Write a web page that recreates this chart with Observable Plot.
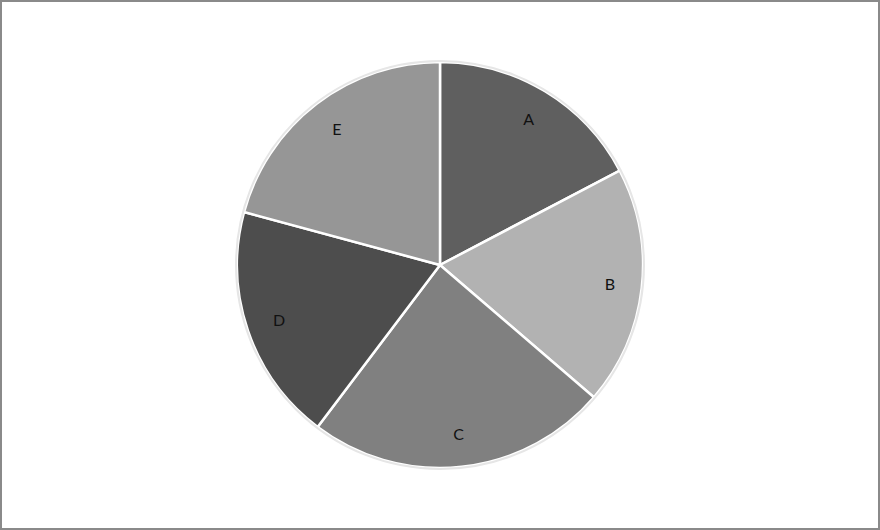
<!DOCTYPE html>
<html>
<head>
<meta charset="utf-8">
<script src="https://cdn.jsdelivr.net/npm/d3@7"></script>
<script src="https://cdn.jsdelivr.net/npm/@observablehq/plot@0.6"></script>
<style>
  body { margin: 0; background: #fff; }
  #chart { width: 876px; height: 526px; border: 2px solid #8a8a8a; overflow: hidden; }
</style>
</head>
<body>
<div id="chart"></div>
<script>
const categories = ['A', 'B', 'C', 'D', 'E']
const values = [17.3, 19.0, 24.0, 18.9, 20.8]
const colors = ['#5f5f5f', '#b2b2b2', '#808080', '#4d4d4d', '#969696']

const radius = 203
const pie = d3.pie().sort(null)(values)
const slices = pie.map((p, i) => {
  const mid = (p.startAngle + p.endAngle) / 2
  return {
    name: categories[i], color: colors[i],
    startAngle: p.startAngle, endAngle: p.endAngle,
    lx: Math.sin(mid) * radius * 0.84,
    ly: Math.cos(mid) * radius * 0.84
  }
})

/* marca propia: dibuja las porciones con d3.arc usando las escalas de Plot */
function pieMark(index, scales) {
  const cx = scales.x(0), cy = scales.y(0)
  const r = scales.x(radius) - cx
  const arc = d3.arc().innerRadius(0).outerRadius(r)
  const g = d3.create('svg:g').attr('transform', `translate(${cx},${cy})`)
  g.selectAll('path').data(slices).join('path')
    .attr('d', d => arc(d))
    .attr('fill', d => d.color)
    .attr('stroke', '#fff')
    .attr('stroke-width', 2.5)
  g.append('circle').attr('r', r + 1).attr('fill', 'none')
    .attr('stroke', '#e6e6e6').attr('stroke-width', 2)
  return g.node()
}

const chart = Plot.plot({
  width: 876, height: 526,
  margin: 0,
  x: { domain: [-438, 438], axis: null },
  y: { domain: [-263, 263], axis: null },
  marks: [
    pieMark,
    Plot.text(slices, {
      x: 'lx', y: 'ly', text: 'name',
      fill: '#111', fontSize: 16, fontFamily: 'Lato, sans-serif'
    })
  ]
})
document.getElementById('chart').append(chart)
</script>
</body>
</html>
